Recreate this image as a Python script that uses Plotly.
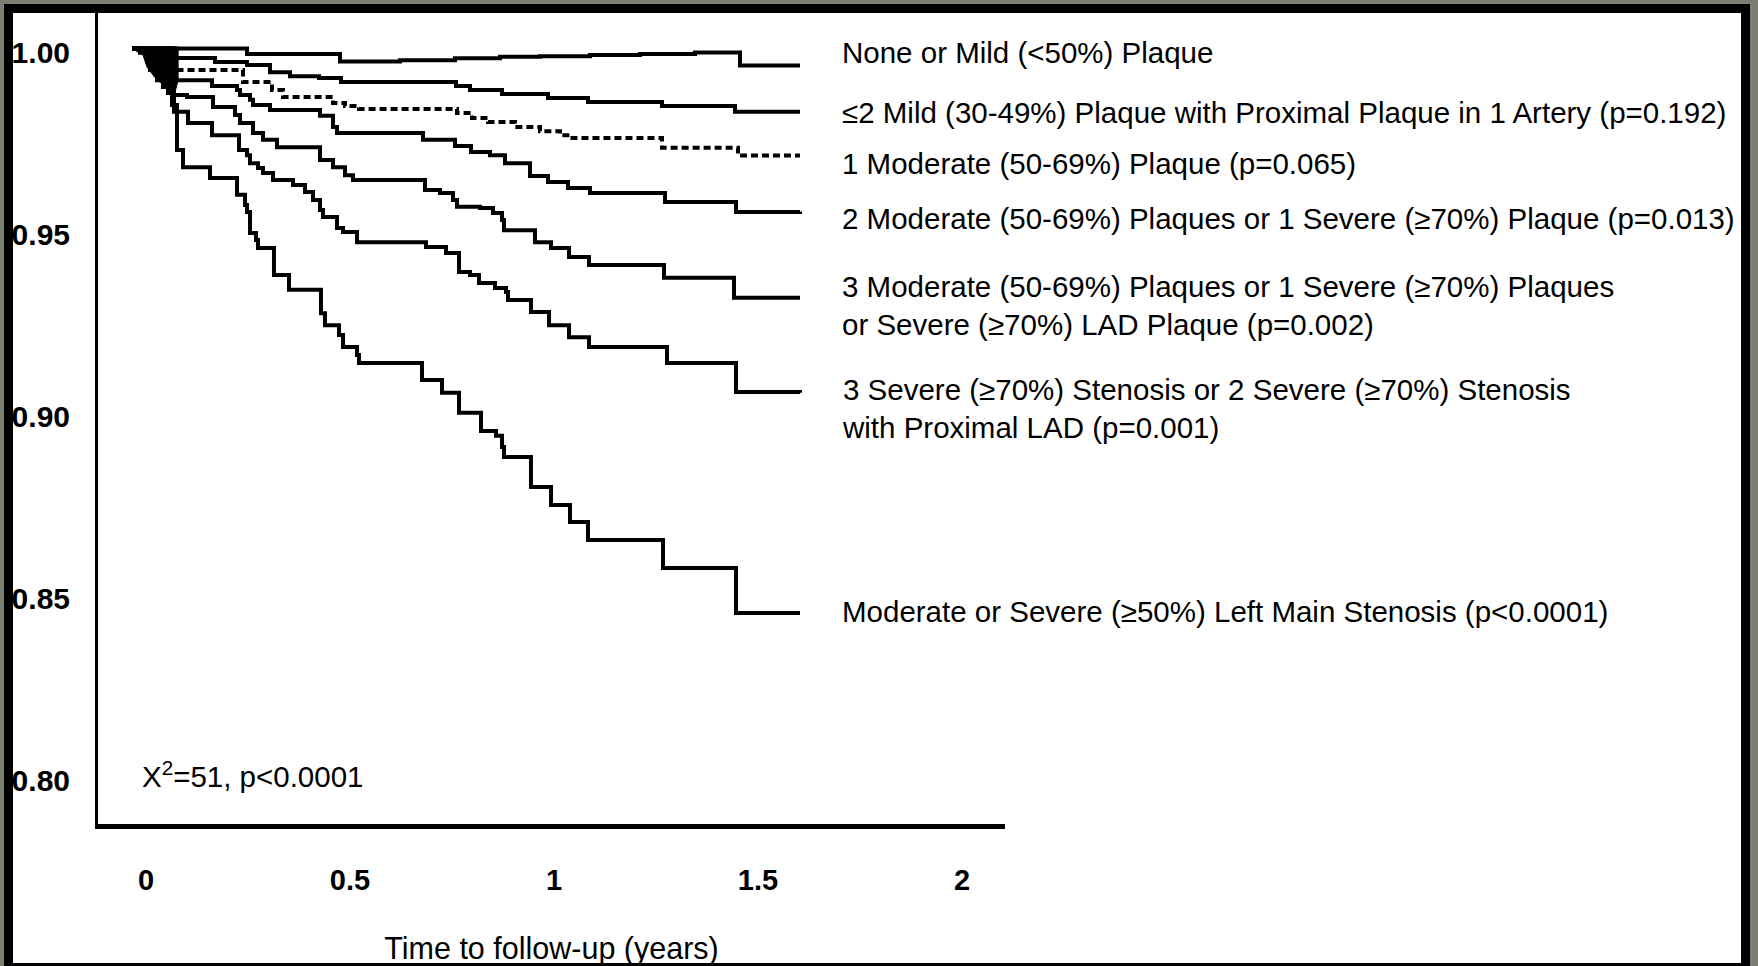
import plotly.graph_objects as go

# ---------------- data (time in years, survival proportion) ----------------
none_t = [0, 0.2819, 0.5098, 0.6569, 0.7917, 0.9020, 1.0000, 1.1225, 1.2451, 1.3799, 1.4902, 1.6373]
none_s = [1.0000, 0.9985, 0.9964, 0.9968, 0.9973, 0.9977, 0.9979, 0.9982, 0.9985, 0.9989, 0.9953, 0.9953]

mild_t = [0, 0.1078, 0.2034, 0.2819, 0.3382, 0.3873, 0.4583, 0.5123, 0.7941, 0.8284, 0.9069, 1.0196,
          1.1176, 1.2990, 1.4779, 1.6373]
mild_s = [1.0000, 0.9974, 0.9963, 0.9955, 0.9935, 0.9924, 0.9919, 0.9908, 0.9897, 0.9886, 0.9875, 0.9864,
          0.9853, 0.9842, 0.9826, 0.9826]

mod1_t = [0, 0.1078, 0.2721, 0.3431, 0.3701, 0.4926, 0.5221, 0.5564, 0.7966, 0.8333, 0.8725, 0.9387,
          1.0000, 1.0490, 1.0735, 1.2990, 1.4853, 1.6373]
mod1_s = [1.0000, 0.9941, 0.9908, 0.9886, 0.9867, 0.9850, 0.9842, 0.9834, 0.9823, 0.9809, 0.9798, 0.9784,
          0.9773, 0.9762, 0.9754, 0.9727, 0.9706, 0.9706]

mod2_t = [0, 0.0931, 0.1961, 0.2574, 0.2647, 0.2892, 0.2966, 0.3382, 0.4608, 0.4926, 0.5025, 0.7132,
          0.7917, 0.8309, 0.8775, 0.9142, 0.9755, 1.0196, 1.0686, 1.1225, 1.3064, 1.4804, 1.6373]
mod2_s = [1.0000, 0.9913, 0.9897, 0.9886, 0.9872, 0.9859, 0.9845, 0.9831, 0.9815, 0.9784, 0.9768, 0.9749,
          0.9732, 0.9716, 0.9707, 0.9685, 0.9650, 0.9633, 0.9617, 0.9603, 0.9578, 0.9551, 0.9552]

mod3_t = [0, 0.0980, 0.1348, 0.1985, 0.2525, 0.2647, 0.2966, 0.3211, 0.3554, 0.4608, 0.4926, 0.5221,
          0.5417, 0.7181, 0.7549, 0.7868, 0.7966, 0.8529, 0.8848, 0.9069, 0.9118, 0.9877, 1.0270, 1.0711,
          1.1201, 1.3039, 1.4755, 1.6373]
mod3_s = [1.0000, 0.9872, 0.9867, 0.9839, 0.9817, 0.9795, 0.9768, 0.9749, 0.9729, 0.9694, 0.9674, 0.9652,
          0.9639, 0.9611, 0.9603, 0.9584, 0.9565, 0.9562, 0.9548, 0.9529, 0.9501, 0.9468, 0.9452, 0.9427,
          0.9405, 0.9370, 0.9315, 0.9315]

sev3_t = [0, 0.1029, 0.1373, 0.1961, 0.2623, 0.2819, 0.2892, 0.3088, 0.3211, 0.3456, 0.3946, 0.4240,
          0.4436, 0.4608, 0.4681, 0.5025, 0.5172, 0.5515, 0.7206, 0.7696, 0.8015, 0.8284, 0.8505, 0.8897,
          0.9167, 0.9216, 0.9779, 1.0221, 1.0711, 1.1201, 1.3113, 1.4804, 1.6373]
sev3_s = [1.0000, 0.9826, 0.9795, 0.9762, 0.9721, 0.9707, 0.9685, 0.9672, 0.9658, 0.9639, 0.9625, 0.9606,
          0.9584, 0.9556, 0.9537, 0.9507, 0.9496, 0.9468, 0.9455, 0.9438, 0.9386, 0.9378, 0.9356, 0.9342,
          0.9331, 0.9309, 0.9276, 0.9240, 0.9207, 0.9180, 0.9136, 0.9056, 0.9054]

lm_t = [0, 0.0196, 0.0368, 0.0441, 0.0613, 0.0760, 0.0882, 0.0980, 0.1103, 0.1250, 0.1912, 0.2574,
        0.2770, 0.2819, 0.2892, 0.3039, 0.3088, 0.3480, 0.3848, 0.4632, 0.4730, 0.5074, 0.5172, 0.5515,
        0.5564, 0.7108, 0.7598, 0.8015, 0.8554, 0.8922, 0.9069, 0.9118, 0.9779, 1.0270, 1.0735, 1.1176,
        1.3015, 1.4804, 1.6373]
lm_s = [1.0000, 0.9988, 0.9968, 0.9941, 0.9913, 0.9894, 0.9878, 0.9845, 0.9721, 0.9674, 0.9644, 0.9598,
        0.9570, 0.9551, 0.9493, 0.9474, 0.9452, 0.9378, 0.9337, 0.9273, 0.9240, 0.9213, 0.9180, 0.9158,
        0.9136, 0.9089, 0.9054, 0.8999, 0.8949, 0.8936, 0.8905, 0.8878, 0.8795, 0.8746, 0.8699, 0.8650,
        0.8573, 0.8449, 0.8449]

# dense overlap of early events (solid black wedge near t=0)
early_t = [0, 0.113, 0.113, 0.1005, 0.0858, 0.0613, 0.0368, 0.0270, 0]
early_s = [1.0, 1.0, 0.9913, 0.9859, 0.9895, 0.9913, 0.9949, 0.9982, 1.0]

group_labels = [
    "None or Mild (&lt;50%) Plaque",
    "≤2 Mild (30-49%) Plaque with Proximal Plaque in 1 Artery (p=0.192)",
    "1 Moderate (50-69%) Plaque (p=0.065)",
    "2 Moderate (50-69%) Plaques or 1 Severe (≥70%) Plaque (p=0.013)",
    "3 Moderate (50-69%) Plaques or 1 Severe (≥70%) Plaques<br>or Severe (≥70%) LAD Plaque (p=0.002)",
    "3 Severe (≥70%) Stenosis or 2 Severe (≥70%) Stenosis<br>with Proximal LAD (p=0.001)",
    "Moderate or Severe (≥50%) Left Main Stenosis (p&lt;0.0001)",
]
x_tick_vals = [0, 0.5, 1, 1.5, 2]
x_tick_text = ["0", "0.5", "1", "1.5", "2"]
y_tick_vals = [0.80, 0.85, 0.90, 0.95, 1.00]
y_tick_text = ["0.80", "0.85", "0.90", "0.95", "1.00"]
stat_text = "X<sup>2</sup>=51, p&lt;0.0001"
x_title = "Time to follow-up (years)"

# ---------------- layout geometry ----------------
W, H = 1758, 966
L, RGT, TOP, BOT = 98, 1005, 13, 824          # plot-area box in pixels
X0_PX, PX_PER_YEAR = 132, 408
Y1_PX, PX_PER_UNIT = 48.5, 3640
x_range = [(L - X0_PX) / PX_PER_YEAR, (RGT - X0_PX) / PX_PER_YEAR]
y_range = [1 - (BOT - Y1_PX) / PX_PER_UNIT, 1 + (Y1_PX - TOP) / PX_PER_UNIT]


def fx(p):
    return (p - L) / (RGT - L)


def fy(p):
    return (BOT - p) / (BOT - TOP)


FONT = "Liberation Sans"
OLIVE = "#7b7f71"

fig = go.Figure()
fig.add_trace(go.Scatter(x=early_t, y=early_s, mode="lines", fill="toself", fillcolor="black",
                         line=dict(color="black", width=1), hoverinfo="skip", showlegend=False))

series = [
    (none_t, none_s, "solid"),
    (mild_t, mild_s, "solid"),
    (mod1_t, mod1_s, "7px,4px"),
    (mod2_t, mod2_s, "solid"),
    (mod3_t, mod3_s, "solid"),
    (sev3_t, sev3_s, "solid"),
    (lm_t, lm_s, "solid"),
]
for (tt, ss, dash), name in zip(series, group_labels):
    fig.add_trace(go.Scatter(x=tt, y=ss, mode="lines", line_shape="hv",
                             line=dict(color="black", width=4, dash=dash),
                             name=name.replace("<br>", " "), showlegend=False))

label_y_px = [53, 113, 163, 219, 305, 408, 611]
annotations = []
for txt, yp in zip(group_labels, label_y_px):
    annotations.append(dict(text=txt, xref="paper", yref="paper", x=fx(840), y=fy(yp),
                            xanchor="left", yanchor="middle", align="left", showarrow=False,
                            font=dict(family=FONT, size=29.5, color="black")))
annotations.append(dict(text=stat_text, xref="paper", yref="paper", x=fx(140), y=fy(774),
                        xanchor="left", yanchor="middle", showarrow=False,
                        font=dict(family=FONT, size=29.5, color="black")))

# picture frame (olive outer edge + black border)
frame = [
    (0, 0, 4, H, OLIVE), (0, 0, W, 4, OLIVE), (1750, 0, W, H, OLIVE),
    (4, 4, 13, H, "black"), (4, 4, 1750, 13, "black"), (1741, 4, 1750, H, "black"),
    (4, 963, 1750, H, "black"),
]
shapes = [dict(type="rect", xref="paper", yref="paper", x0=fx(a), x1=fx(c), y0=fy(d), y1=fy(b),
               fillcolor=col, line=dict(width=0), layer="above") for a, b, c, d, col in frame]

fig.update_layout(
    width=W, height=H,
    margin=dict(l=L, r=W - RGT, t=TOP, b=H - BOT, autoexpand=False),
    paper_bgcolor="white", plot_bgcolor="white",
    font=dict(family=FONT, color="black"),
    showlegend=False,
    annotations=annotations,
    shapes=shapes,
    xaxis=dict(range=x_range, tickvals=x_tick_vals, ticktext=x_tick_text, showgrid=False,
               zeroline=False, showline=True, linecolor="black", linewidth=5, ticks="",
               tickfont=dict(family=FONT, size=29, color="black", weight="bold"),
               ticklabelshift=14, ticklabelstandoff=26,
               title=dict(text=x_title, font=dict(family=FONT, size=30.5, color="black"), standoff=53)),
    yaxis=dict(range=y_range, tickvals=y_tick_vals, ticktext=y_tick_text, showgrid=False,
               zeroline=False, showline=True, linecolor="black", linewidth=3, ticks="",
               tickfont=dict(family=FONT, size=30, color="black", weight="bold"),
               ticklabelshift=4, ticklabelstandoff=19),
)

fig.write_html("out.html", config={"displayModeBar": False},
               post_script="document.body.style.margin='0px';")
